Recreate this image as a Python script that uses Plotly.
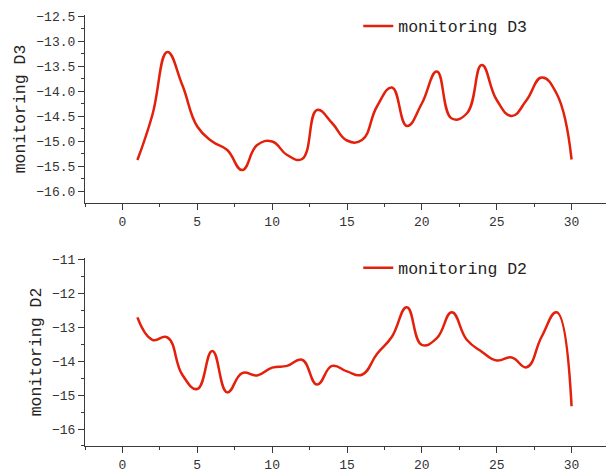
import plotly.graph_objects as go
from plotly.subplots import make_subplots

x_vals = list(range(1, 31))
d3_vals = [-15.38, -14.48, -13.22, -13.88, -14.71, -15.01, -15.18, -15.58, -15.08, -15.01,
           -15.28, -15.36, -14.38, -14.64, -14.99, -14.98, -14.31, -13.93, -14.70, -14.25,
           -13.61, -14.55, -14.45, -13.48, -14.18, -14.50, -14.18, -13.73, -14.05, -15.37]
d2_vals = [-12.71, -13.37, -13.30, -14.40, -14.82, -13.70, -14.92, -14.35, -14.42, -14.19,
           -14.14, -13.96, -14.69, -14.14, -14.30, -14.40, -13.79, -13.28, -12.41, -13.52,
           -13.32, -12.56, -13.37, -13.72, -13.98, -13.89, -14.18, -13.28, -12.56, -15.33]
x_ticks = [0, 5, 10, 15, 20, 25, 30]
d3_ticks = [-12.5, -13.0, -13.5, -14.0, -14.5, -15.0, -15.5, -16.0]
d2_ticks = [-11, -12, -13, -14, -15, -16]

RED = "#E3200B"
AX = "#3a3a3a"
FONT = "Liberation Mono"

fig = make_subplots(rows=2, cols=1, vertical_spacing=0.1276)
fig.add_trace(go.Scatter(x=x_vals, y=d3_vals, mode="lines", name="monitoring D3",
                         line=dict(color=RED, width=2.5, shape="spline", smoothing=1.3),
                         legend="legend", showlegend=True), row=1, col=1)
fig.add_trace(go.Scatter(x=x_vals, y=d2_vals, mode="lines", name="monitoring D2",
                         line=dict(color=RED, width=2.5, shape="spline", smoothing=1.3),
                         legend="legend2", showlegend=True), row=2, col=1)

xcommon = dict(range=[-2.5, 32.3], tickvals=x_ticks, ticks="outside", ticklen=6, tickwidth=1,
               tickcolor=AX, showline=True, linecolor=AX, linewidth=1.2, showgrid=False,
               zeroline=False, tickfont=dict(family=FONT, size=13, color="#333"),
               minor=dict(ticks="outside", ticklen=3, tickcolor=AX, dtick=2.5, tick0=0, showgrid=False))
fig.update_xaxes(**xcommon, domain=[0, 1])
fig.update_yaxes(row=1, col=1, domain=[0.5638, 1.0], range=[-16.24, -12.48], tickvals=d3_ticks,
                 tickformat=".1f")
fig.update_yaxes(row=2, col=1, domain=[0.0, 0.4362], range=[-16.5, -10.96], tickvals=d2_ticks)
fig.update_yaxes(row=1, col=1, minor=dict(ticks="outside", ticklen=3, tickcolor=AX, dtick=0.25,
                                          tick0=-12.5, showgrid=False))
fig.update_yaxes(row=2, col=1, minor=dict(ticks="outside", ticklen=3, tickcolor=AX, dtick=0.5,
                                          tick0=-11, showgrid=False))
fig.update_yaxes(ticks="outside", ticklen=6, tickwidth=1, tickcolor=AX, showline=True,
                 linecolor=AX, linewidth=1.2, showgrid=False, zeroline=False,
                 tickfont=dict(family=FONT, size=13, color="#333"),
                 title_font=dict(family=FONT, size=16.5, color="#222"), title_standoff=6)
fig.update_yaxes(title_text="monitoring D3", row=1, col=1)
fig.update_yaxes(title_text="monitoring D2", row=2, col=1)

legfont = dict(family=FONT, size=16.5, color="#222")
fig.update_layout(
    width=606, height=472,
    showlegend=True,
    margin=dict(l=85, r=0, t=15, b=26),
    paper_bgcolor="white", plot_bgcolor="white",
    legend=dict(x=0.5245, y=0.974, xanchor="left", yanchor="middle", font=legfont,
                bgcolor="rgba(0,0,0,0)"),
    legend2=dict(x=0.5245, y=0.413, xanchor="left", yanchor="middle", font=legfont,
                 bgcolor="rgba(0,0,0,0)"),
)

fig.write_html("out.html")
